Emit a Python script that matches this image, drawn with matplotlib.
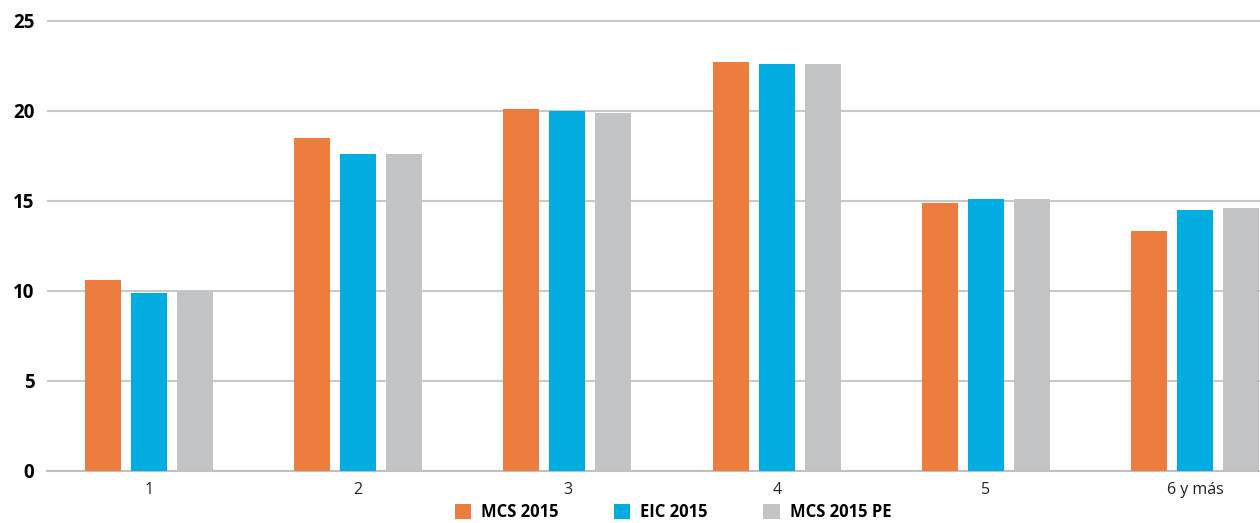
import matplotlib.pyplot as plt
import numpy as np

groups = ["1", "2", "3", "4", "5", "6 y más"]
mcs2015 = [10.6, 18.5, 20.1, 22.7, 14.9, 13.3]
eic2015 = [9.9, 17.6, 20.0, 22.6, 15.1, 14.5]
mcs2015pe = [10.0, 17.6, 19.9, 22.6, 15.1, 14.6]
series = ["MCS 2015", "EIC 2015", "MCS 2015 PE"]
colors = ["#ED7D3F", "#00ACE0", "#C2C3C5"]

plt.rcParams['font.family'] = ['Open Sans', 'DejaVu Sans']

fig = plt.figure(figsize=(12.6, 5.23), dpi=100)
ax = fig.add_axes([47 / 1260, 52 / 523, 1 - 47 / 1260, 452 / 523])

x = np.arange(len(groups))
gw = 209.2  # px per group
w = 36 / gw
step = 46 / gw
for i, (vals, lab, c) in enumerate(zip([mcs2015, eic2015, mcs2015pe], series, colors)):
    ax.bar(x + (i - 1) * step, vals, width=w, color=c, label=lab, zorder=3)

ax.set_ylim(0, 25.1)
ax.set_xlim(-0.488, -0.488 + 1213 / gw)
ax.set_yticks([0, 5, 10, 15, 20, 25])
ax.set_xticks(x)
ax.set_xticklabels(groups, fontsize=11.5, color="#222222")
for t in ax.get_yticklabels():
    t.set_fontweight("bold")
    t.set_fontsize(13.5)
ax.grid(axis="y", color="#C8C8C8", linewidth=1.5, zorder=0)
for s in ["top", "right", "left"]:
    ax.spines[s].set_visible(False)
ax.spines["bottom"].set_color("#C0C0C0")
ax.spines["bottom"].set_linewidth(1.5)
ax.tick_params(axis="both", length=0, pad=8)
ax.tick_params(axis="y", pad=9)

handles, labels = ax.get_legend_handles_labels()
fig.legend(handles, labels, loc="center", bbox_to_anchor=(0.534, 11 / 523), ncol=3, frameon=False,
           prop={"weight": "bold", "size": 12}, handlelength=1.0, handleheight=1.0,
           columnspacing=3.3, handletextpad=0.6, borderpad=0)

fig.savefig("out.png", dpi=100)
